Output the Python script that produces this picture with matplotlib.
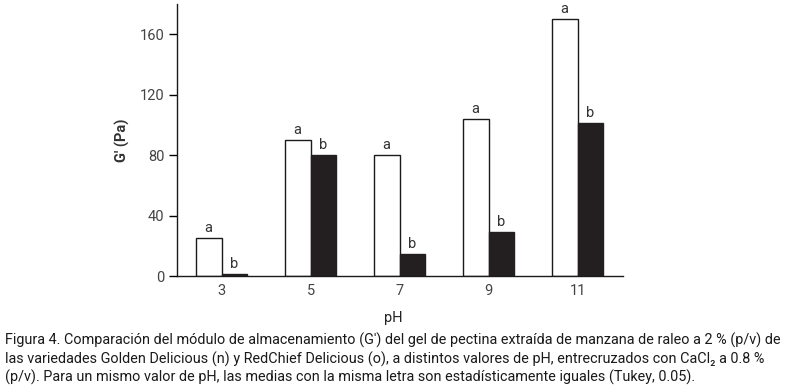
import matplotlib
matplotlib.use('Agg')
import matplotlib.pyplot as plt
import numpy as np

plt.rcParams['font.family'] = ['Roboto', 'DejaVu Sans']

# --- datos ---
ph = ['3', '5', '7', '9', '11']
golden = [25, 90, 80, 104, 170]
redchief = [1, 80, 14.5, 29, 101.5]
letras_golden = ['a', 'a', 'a', 'a', 'a']
letras_red = ['b', 'b', 'b', 'b', 'b']

caption = ("Figura 4. Comparación del módulo de almacenamiento (G') del gel de pectina extraída de manzana de raleo a 2 % (p/v) de\n"
           "las variedades Golden Delicious (n) y RedChief Delicious (o), a distintos valores de pH, entrecruzados con CaCl\u2082 a 0.8 %\n"
           "(p/v). Para un mismo valor de pH, las medias con la misma letra son estadísticamente iguales (Tukey, 0.05).")

fig = plt.figure(figsize=(7.87, 3.9), dpi=100)
ax = fig.add_axes([0.225, 0.2923, 0.5666, 0.6974])

x = np.arange(len(ph))
w = 0.29
ax.bar(x - w / 2, golden, w, color='white', edgecolor='#1a1a1a', linewidth=1)
ax.bar(x + w / 2, redchief, w, color='#231f20', edgecolor='#231f20', linewidth=1)

for i in range(len(ph)):
    ax.text(x[i] - w / 2, golden[i] + 2, letras_golden[i], ha='center', va='bottom',
            fontsize=10.5, color='#333333')
    ax.text(x[i] + w / 2, redchief[i] + 2, letras_red[i], ha='center', va='bottom',
            fontsize=10.5, color='#333333')

ax.set_xlim(-0.5, 4.51)
ax.set_ylim(0, 180)
ax.set_yticks([0, 40, 80, 120, 160])
ax.set_xticks(x)
ax.set_xticklabels(ph)
ax.tick_params(axis='y', direction='out', length=6, width=1, labelsize=10.5,
               labelcolor='#444444', pad=3)
ax.tick_params(axis='x', length=0, labelsize=10.5, labelcolor='#444444', pad=6)
for s in ['top', 'right']:
    ax.spines[s].set_visible(False)
for s in ['left', 'bottom']:
    ax.spines[s].set_linewidth(1)
    ax.spines[s].set_color('#1a1a1a')

ax.set_ylabel("G' (Pa)", fontsize=10.5, fontweight='bold', color='#333333', labelpad=7)
fig.text(0.5, 1 - 318 / 390, 'pH', ha='center', va='center', fontsize=10.5, color='#222222')

fig.text(0.006, 1 - 333 / 390, caption, ha='left', va='top', fontsize=10.35,
         color='#1a1a1a', linespacing=1.25)

fig.savefig('out.png', dpi=100)
